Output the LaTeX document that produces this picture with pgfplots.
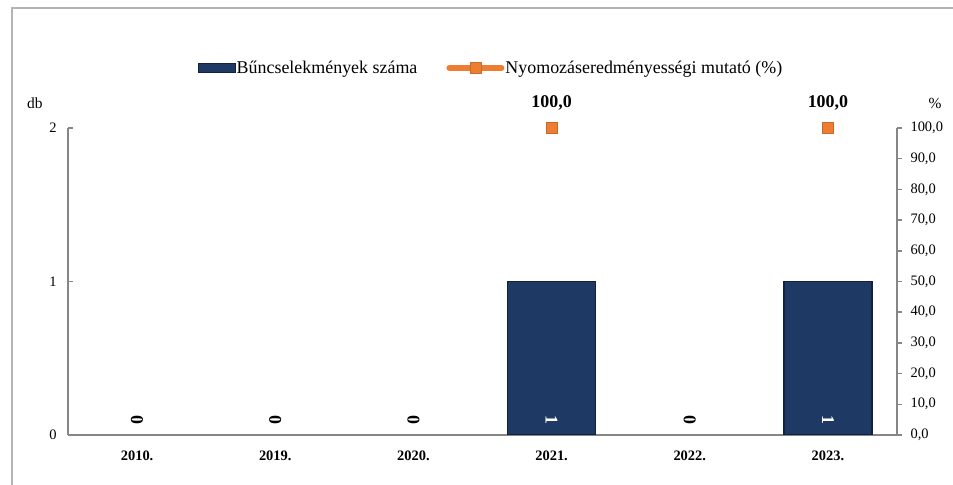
\documentclass[border=0pt]{standalone}
\usepackage{pgfplots}
\pgfplotsset{compat=1.18}
\usepackage{fontspec}
\setmainfont{Liberation Serif}
\definecolor{barblue}{RGB}{31,57,101}
\definecolor{baredge}{RGB}{18,34,62}
\definecolor{orangemk}{RGB}{237,125,49}
\definecolor{axgray}{RGB}{134,134,134}
\definecolor{framegray}{RGB}{180,180,180}
\begin{document}
\begin{tikzpicture}[font=\fontsize{14.5}{17}\selectfont]
\useasboundingbox (0,0) rectangle (953bp,485bp);
\draw[framegray, line width=1.5bp] (12bp,-20bp) -- (12bp,477bp) -- (990bp,477bp);
\pgfplotsset{
 common/.style={
  scale only axis, width=829bp, height=307bp,
  at={(68bp,50bp)}, anchor=south west,
  xmin=-0.5, xmax=5.5,
  /pgf/number format/assume math mode=true,
  tick label style={font=\fontsize{14.5}{17}\selectfont},
  axis line style={axgray, line width=1.5bp},
  major tick length=5bp,
 }
}
\begin{axis}[common,
  axis x line*=bottom, axis y line*=left,
  ymin=0, ymax=2, ytick={0,1,2},
  xtick={0,...,5}, xticklabels={2010.,2019.,2020.,2021.,2022.,2023.},
  xticklabel style={font=\fontsize{14.5}{17}\selectfont\bfseries, yshift=-12bp},
  x tick style={draw=none},
  y tick style={axgray, line width=1.5bp},
  tick align=inside,
  yticklabel style={xshift=-8bp},
  ylabel={db}, ylabel style={rotate=-90, at={(axis description cs:-0.04,1.081)}, anchor=center, font=\fontsize{15.5}{18}\selectfont},
]
\addplot[ybar, bar width=88bp, bar shift=0pt, fill=barblue, draw=baredge, line width=1.2bp] coordinates {(3,1) (5,1)};
% data labels at the base of each bar
\addplot[draw=none, mark=none, nodes near coords, point meta=explicit,
  nodes near coords style={anchor=center, yshift=15bp, rotate=-90, black, font=\fontsize{18}{20}\selectfont\bfseries}]
  coordinates {(0,0) [0] (1,0) [0] (2,0) [0] (4,0) [0]};
\addplot[draw=none, mark=none, nodes near coords, point meta=explicit,
  nodes near coords style={anchor=center, yshift=15bp, rotate=-90, white, font=\fontsize{18}{20}\selectfont\bfseries}]
  coordinates {(3,0) [1] (5,0) [1]};
\end{axis}
\begin{axis}[common,
  axis y line*=right, axis x line=none, xtick=\empty,
  ymin=0, ymax=100, ytick={0,10,...,100},
  yticklabel style={xshift=5bp, /pgf/number format/.cd, fixed, fixed zerofill, precision=1, use comma},
  y tick style={axgray, line width=1.5bp}, tick align=outside,
  ylabel={\%}, ylabel style={rotate=-90, at={(axis description cs:1.0459,1.081)}, anchor=center, font=\fontsize{15.5}{18}\selectfont},
  legend columns=2,
  legend style={draw=none, fill=none, at={(axis description cs:0.51,1.195)}, anchor=center,
    nodes={inner sep=1bp}, font=\fontsize{18}{20}\selectfont,
    /tikz/every even column/.append style={column sep=28bp}},
  legend cell align=left,
]
\addlegendimage{legend image code/.code={\fill[barblue, draw=baredge] (0bp,-4.5bp) rectangle (37bp,4.5bp);}}
\addlegendentry{Bűncselekmények száma}
\addplot[only marks, mark=square*, mark size=5.3bp, mark options={fill=orangemk, draw=orangemk!85!black, line width=0.5bp},
  nodes near coords,
  nodes near coords style={anchor=center, yshift=25bp, black, font=\fontsize{18}{20}\selectfont\bfseries,
    /pgf/number format/.cd, fixed, fixed zerofill, precision=1, use comma},
  legend image code/.code={\draw[orangemk, line width=6bp, line cap=round] (3bp,0bp) -- (55bp,0bp);
    \fill[orangemk, draw=orangemk!85!black, line width=0.5bp] (24bp,-5.5bp) rectangle (35bp,5.5bp);}]
  coordinates {(3,100) (5,100)};
\addlegendentry{Nyomozáseredményességi mutató (\%)}
\end{axis}
\end{tikzpicture}
\end{document}
